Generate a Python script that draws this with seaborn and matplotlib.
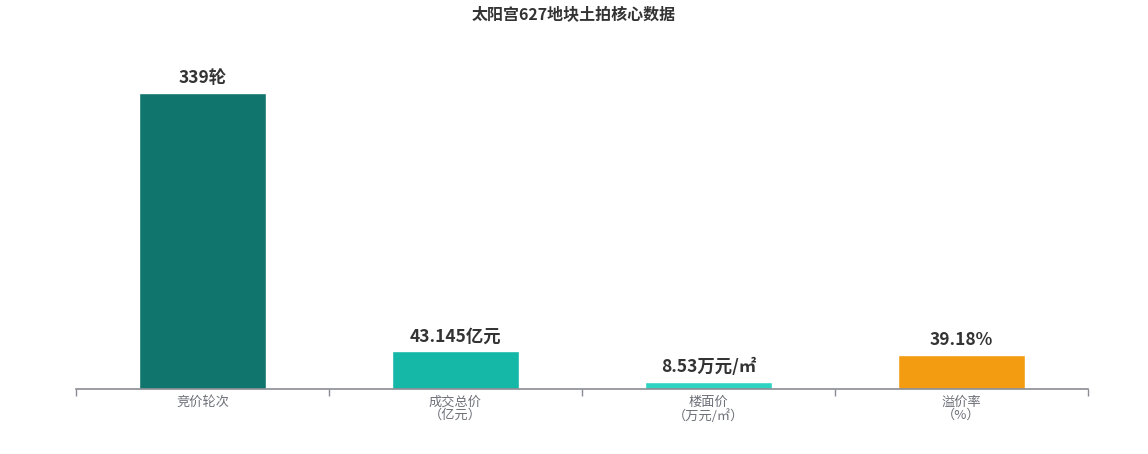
import matplotlib
matplotlib.use("Agg")
import matplotlib.pyplot as plt
import seaborn as sns
import pandas as pd

categories = ["竞价轮次", "成交总价\n（亿元）", "楼面价\n（万元/㎡）", "溢价率\n（%）"]
values = [339, 43.145, 8.53, 39.18]
value_labels = ["339轮", "43.145亿元", "8.53万元/㎡", "39.18%"]
colors = ["#10756c", "#15b8a7", "#2ed3c1", "#f39c12"]
title = "太阳宫627地块土拍核心数据"

sns.set_theme(style="white")
plt.rcParams['font.family'] = ['Noto Sans CJK SC', 'DejaVu Sans']

W, H = 1148, 454
fig = plt.figure(figsize=(W / 100, H / 100), dpi=100)
ax_top_px = 60
ax_bot_px = 389
ax = fig.add_axes([76 / W, (H - ax_bot_px) / H, (1088 - 76) / W, (ax_bot_px - ax_top_px) / H])

df = pd.DataFrame({"cat": categories, "val": values})
sns.barplot(data=df, x="cat", y="val", hue="cat", palette=colors, legend=False,
            width=0.5, ax=ax, saturation=1)

scale = (389 - 93) / 339.0
ymax = (ax_bot_px - ax_top_px) / scale
ax.set_ylim(0, ymax)
ax.set_xlim(-0.5, len(categories) - 0.5)

for i, (v, lab) in enumerate(zip(values, value_labels)):
    ax.annotate(lab, (i, v), xytext=(0, 4), textcoords="offset points",
                ha="center", va="bottom", fontsize=12.5, fontweight="bold",
                color="#333333", clip_on=False)

for s in ["top", "right", "left"]:
    ax.spines[s].set_visible(False)
ax.spines["bottom"].set_color("#8a8c94")
ax.spines["bottom"].set_linewidth(1.2)
ax.set_yticks([])
ax.set_xlabel("")
ax.set_ylabel("")
ax.set_xticks(range(len(categories)))
ax.set_xticklabels(categories, fontsize=9.5, color="#6e7079", linespacing=1.0)
ax.tick_params(axis="x", which="major", length=0, pad=5)
ax.set_xticks([i - 0.5 for i in range(len(categories) + 1)], minor=True)
ax.tick_params(axis="x", which="minor", length=5, width=1, color="#8a8c94", direction="out", bottom=True)

fig.text(0.5, 1 - 15 / H, title, ha="center", va="center", fontsize=11.5, fontweight="bold", color="#333333")

fig.savefig("out.png", dpi=100, facecolor="white")
